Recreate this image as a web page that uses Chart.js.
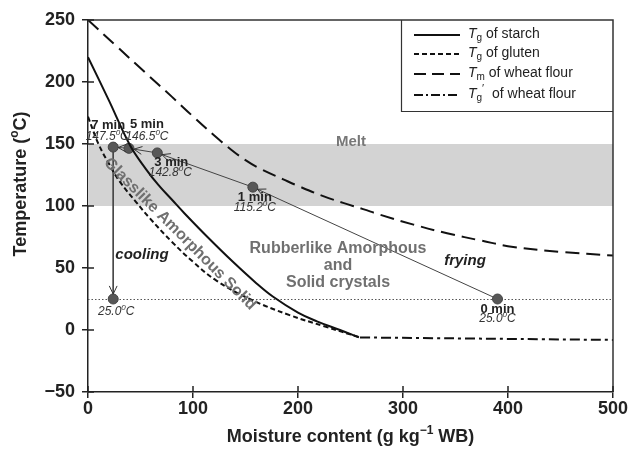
<!DOCTYPE html>
<html><head><meta charset="utf-8">
<script src="https://cdn.jsdelivr.net/npm/chart.js@4/dist/chart.umd.min.js"></script>
<style>html,body{margin:0;padding:0;background:#fff}</style>
</head><body>
<canvas id="c" width="631" height="449"></canvas>
<script>
// ---------- data ----------
const starchMoisture = [0,20,40,55,67,80,92,115,138,160,176,200,218,240,258];
const starchTemp     = [220,185,149,130,117,105,94,74,55,38,27,14,7,0,-6];
const glutenMoisture = [0,10,20,30,46,59,80,100,122,154,192,225,259];
const glutenTemp     = [172,150,134,120,103,90,71,55,40,25,12,3,-6];
const meltMoisture   = [0,27,54,80,99,120,137,150,164,186,202,224,243,262,278,310,342,375,405,450,500];
const meltTemp       = [250,229,208,188,173,157,145,137,130,121.5,115.5,108,102.5,97.5,93,85,78,72,67,63,60];
const tgPrimeMoisture = [259,500];
const tgPrimeTemp     = [-6,-8];
const fryMoisture = [390,157,66,39,24];
const fryTemp     = [25.0,115.2,142.8,146.5,147.5];
const fryTimes    = ["0 min","1 min","3 min","5 min","7 min"];
const coolMoisture = [24,24];
const coolTemp     = [147.5,25.0];
const meltBand     = [100,150];
const storageTemp  = 25;
const xTicks = [0,100,200,300,400,500];
const yTicks = [-50,0,50,100,150,200,250];
const legendLabels = [["T","g","","of starch"],["T","g","","of gluten"],["T","m","","of wheat flour"],["T","g","\u2032"," of wheat flour"]];

const FAM = '"Liberation Sans", Arial, Helvetica, sans-serif';
const f = (size, weight, style) => `${style||'normal'} ${weight||'normal'} ${size}px ${FAM}`;
const pts = (xs, ys) => xs.map((x,i)=>({x, y: ys[i]}));

function drawRich(ctx, segs, x, y, align){
  let w = 0;
  segs.forEach(s=>{ ctx.font = s.f; s.w = ctx.measureText(s.t).width; w += s.w; });
  let cx = align==='center' ? x - w/2 : (align==='right' ? x - w : x);
  ctx.textAlign = 'left';
  segs.forEach(s=>{ ctx.font = s.f; ctx.fillText(s.t, cx, y + (s.dy||0)); cx += s.w; });
}
function tempSegs(v, size){
  return [{t: v.toFixed(1), f: f(size,'normal','italic')},{t:'0', f: f(size-4,'normal','italic'), dy:-4},{t:'C', f: f(size,'normal','italic')}];
}

// label placement offsets (px) relative to each frying point
const timeOff = [[0,10],[2,10],[14,9],[18,-24],[-5,-22]];
const tempOff = [[0,20],[2,21],[13,20],[18,-12],[-6,-10]];

const annot = {
  id:'annot',
  beforeDatasetsDraw(chart){
    const {ctx, chartArea:a, scales:{x,y}} = chart;
    ctx.save();
    ctx.fillStyle = '#d3d3d3';
    const yt = y.getPixelForValue(meltBand[1]), yb = y.getPixelForValue(meltBand[0]);
    ctx.fillRect(a.left, yt, a.right-a.left, yb-yt);
    ctx.strokeStyle = '#555'; ctx.lineWidth = 1; ctx.setLineDash([1.5,2]);
    const y25 = Math.round(y.getPixelForValue(storageTemp))+0.5;
    ctx.beginPath(); ctx.moveTo(a.left, y25); ctx.lineTo(a.right, y25); ctx.stroke();
    ctx.setLineDash([]);
    ctx.restore();
  },
  afterDatasetsDraw(chart){
    const {ctx, chartArea:a, scales:{x,y}} = chart;
    ctx.save();
    ctx.textBaseline = 'middle';
    ctx.strokeStyle = '#333'; ctx.lineWidth = 1;
    const arrow = (x0,y0,x1,y1)=>{
      const ang = Math.atan2(y1-y0, x1-x0);
      const tx = x1 - Math.cos(ang)*5, ty = y1 - Math.sin(ang)*5;
      const L = 9, sp = 0.45;
      ctx.beginPath();
      ctx.moveTo(tx - L*Math.cos(ang-sp), ty - L*Math.sin(ang-sp));
      ctx.lineTo(tx, ty);
      ctx.lineTo(tx - L*Math.cos(ang+sp), ty - L*Math.sin(ang+sp));
      ctx.stroke();
    };
    for(let i=0;i<fryMoisture.length-1;i++){
      arrow(x.getPixelForValue(fryMoisture[i]), y.getPixelForValue(fryTemp[i]),
            x.getPixelForValue(fryMoisture[i+1]), y.getPixelForValue(fryTemp[i+1]));
    }
    arrow(x.getPixelForValue(coolMoisture[0]), y.getPixelForValue(coolTemp[0]),
          x.getPixelForValue(coolMoisture[1]), y.getPixelForValue(coolTemp[1]));
    for(let i=0;i<fryMoisture.length;i++){
      const px = x.getPixelForValue(fryMoisture[i]), py = y.getPixelForValue(fryTemp[i]);
      ctx.fillStyle = '#222'; ctx.font = f(13,'bold'); ctx.textAlign = 'center';
      ctx.fillText(fryTimes[i], px+timeOff[i][0], py+timeOff[i][1]);
      ctx.fillStyle = '#333';
      drawRich(ctx, tempSegs(fryTemp[i],12), px+tempOff[i][0], py+tempOff[i][1], 'center');
    }
    {
      const px = x.getPixelForValue(coolMoisture[1]), py = y.getPixelForValue(coolTemp[1]);
      ctx.fillStyle = '#333';
      drawRich(ctx, tempSegs(coolTemp[1],12), px+3, py+13, 'center');
    }
    ctx.fillStyle = '#777'; ctx.textAlign = 'center';
    ctx.font = f(15,'bold');
    ctx.fillText('Melt', 351, 142);
    ctx.fillStyle = '#707070'; ctx.font = f(16,'bold');
    ctx.fillText('Rubberlike Amorphous', 338, 249);
    ctx.fillText('and', 338, 266);
    ctx.fillText('Solid crystals', 338, 283);
    ctx.save();
    ctx.translate(180, 234); ctx.rotate(45*Math.PI/180);
    ctx.fillText('Glasslike Amorphous Solid', 0, 0);
    ctx.restore();
    ctx.fillStyle = '#222'; ctx.font = f(15,'bold','italic');
    ctx.fillText('cooling', 142, 255);
    ctx.fillText('frying', 465, 261);
    // legend
    ctx.strokeStyle = '#333'; ctx.lineWidth = 1.2;
    ctx.beginPath(); ctx.moveTo(401.5, a.top); ctx.lineTo(401.5, 111.5); ctx.lineTo(a.right, 111.5); ctx.stroke();
    const legY = [35,54,74,95];
    const dashes = [[],[5,3],[12,6],[9,3,2,3]];
    ctx.strokeStyle = '#111'; ctx.lineWidth = 2;
    legY.forEach((ly,i)=>{
      ctx.setLineDash(dashes[i]);
      ctx.beginPath(); ctx.moveTo(414, ly); ctx.lineTo(460, ly); ctx.stroke();
    });
    ctx.setLineDash([]);
    ctx.fillStyle = '#222';
    legendLabels.forEach((l,i)=>{
      const segs = [{t:l[0], f:f(14,'normal','italic')},{t:l[1], f:f(10), dy:4}];
      if(l[2]) segs.push({t:l[2], f:f(11), dy:-5});
      segs.push({t:' '+l[3], f:f(14)});
      drawRich(ctx, segs, 468, legY[i]-1, 'left');
    });
    ctx.restore();
  },
  afterDraw(chart){
    const {ctx, chartArea:a, scales:{x,y}} = chart;
    ctx.save();
    ctx.strokeStyle = '#333'; ctx.lineWidth = 1.5;
    ctx.beginPath(); ctx.moveTo(a.left, a.top); ctx.lineTo(a.right, a.top); ctx.lineTo(a.right, a.bottom); ctx.stroke();
    ctx.strokeStyle = '#222'; ctx.lineWidth = 1.5;
    yTicks.forEach(v=>{ const py = y.getPixelForValue(v); ctx.beginPath(); ctx.moveTo(a.left, py); ctx.lineTo(a.left+6, py); ctx.stroke(); });
    xTicks.forEach(v=>{ const px = x.getPixelForValue(v); ctx.beginPath(); ctx.moveTo(px, a.bottom); ctx.lineTo(px, a.bottom-6); ctx.stroke(); });
    ctx.fillStyle = '#222'; ctx.textBaseline = 'middle';
    drawRich(ctx, [{t:'Moisture content (g kg', f:f(18,'bold')},{t:'\u22121', f:f(12,'bold'), dy:-6},{t:' WB)', f:f(18,'bold')}], (a.left+a.right)/2, 437, 'center');
    ctx.save(); ctx.translate(21, 184); ctx.rotate(-Math.PI/2);
    drawRich(ctx, [{t:'Temperature (', f:f(18,'bold')},{t:'o', f:f(12,'bold'), dy:-6},{t:'C)', f:f(18,'bold')}], 0, 0, 'center');
    ctx.restore();
    ctx.restore();
  }
};

const line = (data, dash) => ({data, showLine:true, pointRadius:0, borderColor:'#111', borderWidth:2, borderDash:dash, tension:0.4, fill:false});

new Chart(document.getElementById('c'), {
  type:'scatter',
  data:{ datasets:[
    line(pts(starchMoisture, starchTemp), []),
    line(pts(glutenMoisture, glutenTemp), [5,3]),
    line(pts(meltMoisture, meltTemp), [14,7]),
    line(pts(tgPrimeMoisture, tgPrimeTemp), [10,4,3,4]),
    {data: pts(fryMoisture, fryTemp), showLine:true, borderColor:'#444', borderWidth:1, pointRadius:5, pointBackgroundColor:'#575757', pointBorderColor:'#444', pointBorderWidth:1, tension:0},
    {data: pts(coolMoisture, coolTemp), showLine:true, borderColor:'#444', borderWidth:1, pointRadius:[0,5], pointBackgroundColor:'#575757', pointBorderColor:'#444', pointBorderWidth:1, tension:0}
  ]},
  options:{
    responsive:false, animation:false, devicePixelRatio:1,
    layout:{padding:{top:20, right:18, left:0, bottom:0}},
    plugins:{legend:{display:false}, tooltip:{enabled:false}},
    scales:{
      x:{type:'linear', min:0, max:500,
         afterBuildTicks: s => { s.ticks = xTicks.map(v=>({value:v})); },
         afterFit: s => { s.height = 57; },
         ticks:{font:{size:18, weight:'bold', family:FAM}, color:'#222', padding:0, maxRotation:0},
         grid:{display:true, drawOnChartArea:false, drawTicks:true, tickLength:6, color:'#222', lineWidth:1.5},
         border:{color:'#222', width:1.5}},
      y:{type:'linear', min:-50, max:250,
         afterBuildTicks: s => { s.ticks = yTicks.map(v=>({value:v})); },
         afterFit: s => { s.width = 88; },
         ticks:{font:{size:18, weight:'bold', family:FAM}, color:'#222', padding:7, callback: v => v < 0 ? '\u2212' + Math.abs(v) : v},
         grid:{display:true, drawOnChartArea:false, drawTicks:true, tickLength:6, color:'#222', lineWidth:1.5},
         border:{color:'#222', width:1.5}}
    }
  },
  plugins:[annot]
});
</script>
</body></html>
